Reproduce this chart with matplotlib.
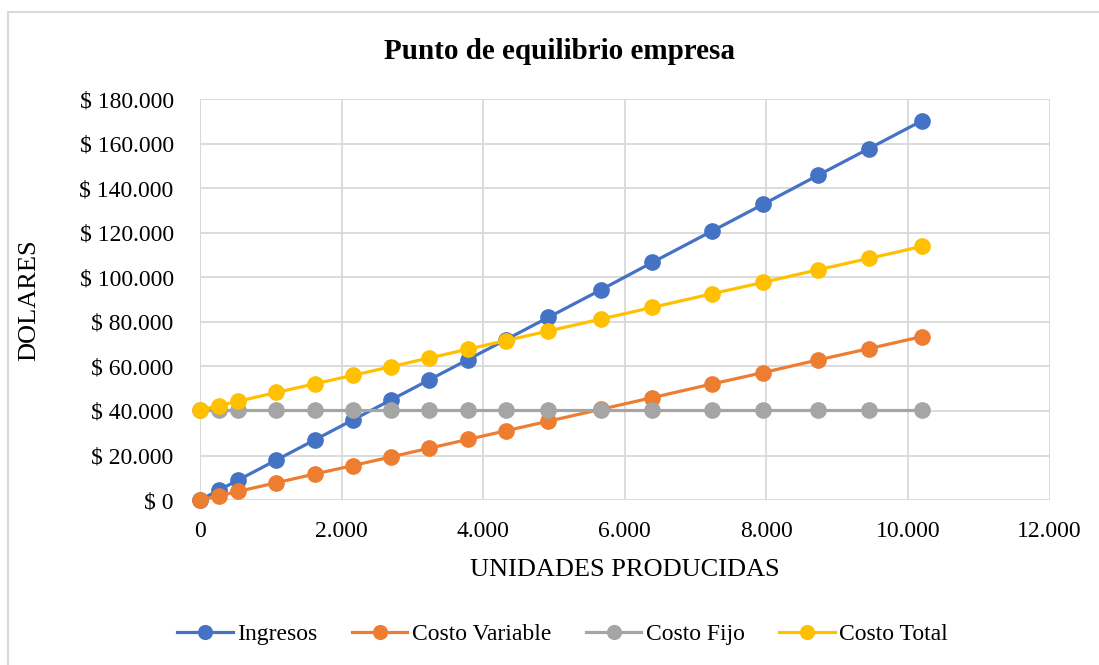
import matplotlib.pyplot as plt
from matplotlib.patches import Rectangle
from matplotlib.ticker import FuncFormatter, MultipleLocator

plt.rcParams['font.family'] = ['Liberation Serif', 'DejaVu Serif']

# units produced (x) and dollar values per series
unidades = [0, 270, 540, 1080, 1620, 2160, 2700, 3240, 3780, 4320,
            4920, 5670, 6390, 7230, 7950, 8730, 9450, 10200]
ingresos = [0, 4500, 9000, 18000, 27000, 36000, 45000, 54000, 63000, 72000,
            82000, 94500, 106700, 120700, 132700, 145800, 157800, 170300]
costo_variable = [0, 1900, 3900, 7800, 11700, 15500, 19400, 23300, 27200, 31100,
                  35400, 40800, 46000, 52100, 57200, 62900, 68000, 73400]
costo_fijo = [40500] * len(unidades)
costo_total = [40500, 42400, 44400, 48300, 52200, 56000, 59900, 63800, 67700, 71600,
               75900, 81300, 86500, 92600, 97700, 103400, 108500, 113900]

series = [("Ingresos", ingresos, "#4472C4"),
          ("Costo Variable", costo_variable, "#ED7D31"),
          ("Costo Fijo", costo_fijo, "#A5A5A5"),
          ("Costo Total", costo_total, "#FFC000")]

fig = plt.figure(figsize=(10.99, 6.65), dpi=100)
ax = fig.add_axes([0.182, 0.248, 0.773, 0.603])

for name, vals, color in series:
    ax.plot(unidades, vals, color=color, lw=2.3, marker="o", markersize=11,
            label=name, clip_on=False, zorder=3)

ax.set_xlim(0, 12000)
ax.set_ylim(0, 180000)
ax.xaxis.set_major_locator(MultipleLocator(2000))
ax.yaxis.set_major_locator(MultipleLocator(20000))


def miles(v):
    return f"{int(v):,}".replace(",", ".")


ax.xaxis.set_major_formatter(FuncFormatter(lambda v, p: miles(v)))
ax.yaxis.set_major_formatter(FuncFormatter(lambda v, p: "$ " + miles(v)))
ax.tick_params(length=0, labelsize=17)
ax.tick_params(axis="x", pad=15)
ax.tick_params(axis="y", pad=19)
ax.grid(True, color="#D9D9D9", lw=1.3)
ax.set_axisbelow(True)
for s in ax.spines.values():
    s.set_visible(False)
ax.axvline(0, color="#D9D9D9", lw=1.3, zorder=1)

ax.set_xlabel("UNIDADES PRODUCIDAS", fontsize=19, labelpad=12)
ax.set_ylabel("DOLARES", fontsize=19)
ax.yaxis.set_label_coords(40 / 1099, 365 / 665, transform=fig.transFigure)
fig.text(0.509, 0.922, "Punto de equilibrio empresa", fontsize=21,
         fontweight="bold", ha="center", va="center")

ax.legend(loc="center", bbox_to_anchor=(0.512, 0.046), bbox_transform=fig.transFigure,
          ncol=4, frameon=False, fontsize=17, handlelength=2.35, columnspacing=1.45,
          handletextpad=0.2, markerscale=0.9)

fig.patches.append(Rectangle((0.007, -0.01), 1.0, 0.992, transform=fig.transFigure,
                             fill=False, edgecolor="#D9D9D9", lw=1.5))

plt.savefig("out.png", dpi=100)
